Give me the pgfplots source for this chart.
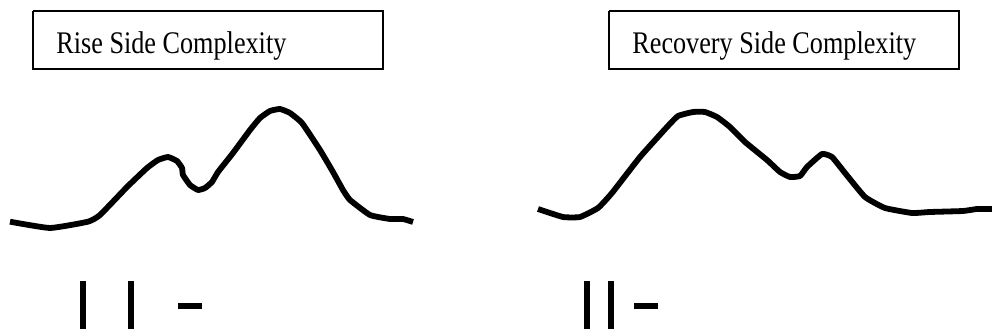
\documentclass[border=0pt]{standalone}
\usepackage{pgfplots}
\pgfplotsset{compat=1.18}
\usepackage{graphicx}
\usepackage{fontspec}
\setmainfont{Liberation Serif}
\pgfplotstableread{
x y
10 221.7
50 228
88 221.7
100 215
127 187
147 168
158 160
168 157
177 161
182 168
183 175
190 185
198 190
205 188
212 182
218 172
233 153
250 130
260 118
270 111
280 109
290 113
302 123
320 150
333 172
343 190
350 200
370 215
390 219
403 219
413 222
}\rise
\pgfplotstableread{
x y
538 209
563 217
580 217
598 208
612 193
640 157
667 127
678 116
693 112
705 112
717 117
730 127
745 142
767 160
780 172
790 177
800 176
807 167
822 154
832 157
845 173
865 197
885 208
912 213
930 212
963 211
977 209
992 209
}\recovery
\begin{document}
\begin{tikzpicture}
\begin{axis}[
  width=496pt, height=165.5pt, scale only axis,
  xmin=0, xmax=992, ymin=0, ymax=331, y dir=reverse,
  hide axis, clip=false,
]
% boxes
\addplot[black, line width=1.05pt, line join=miter] coordinates {(33,11)(383,11)(383,69)(33,69)(33,11)};
\addplot[black, line width=1.05pt, line join=miter] coordinates {(609,11)(959,11)(959,69)(609,69)(609,11)};
\node[anchor=base west, inner sep=0pt, font=\fontsize{13.1pt}{15pt}\selectfont] at (axis cs:56,54) {\scalebox{1}[1.2]{Rise Side Complexity}};
\node[anchor=base west, inner sep=0pt, font=\fontsize{13.1pt}{15pt}\selectfont] at (axis cs:632,54) {\scalebox{1}[1.2]{Recovery Side Complexity}};
% curves
\addplot[black, line width=2.9pt, line join=round, line cap=butt, smooth, tension=0.25] table {\rise};
\addplot[black, line width=2.9pt, line join=round, line cap=butt, smooth, tension=0.25] table {\recovery};
% bars and dashes
\addplot[black, line width=3pt, line cap=butt] coordinates {(83,281)(83,329)};
\addplot[black, line width=3pt, line cap=butt] coordinates {(131,281)(131,329)};
\addplot[black, line width=3pt, line cap=butt] coordinates {(178,306)(202,306)};
\addplot[black, line width=3pt, line cap=butt] coordinates {(587,281)(587,329)};
\addplot[black, line width=3pt, line cap=butt] coordinates {(611,281)(611,329)};
\addplot[black, line width=3pt, line cap=butt] coordinates {(634,306)(658,306)};
\end{axis}
\pgfresetboundingbox
\path (current axis.south west) rectangle (current axis.north east);
\end{tikzpicture}
\end{document}
